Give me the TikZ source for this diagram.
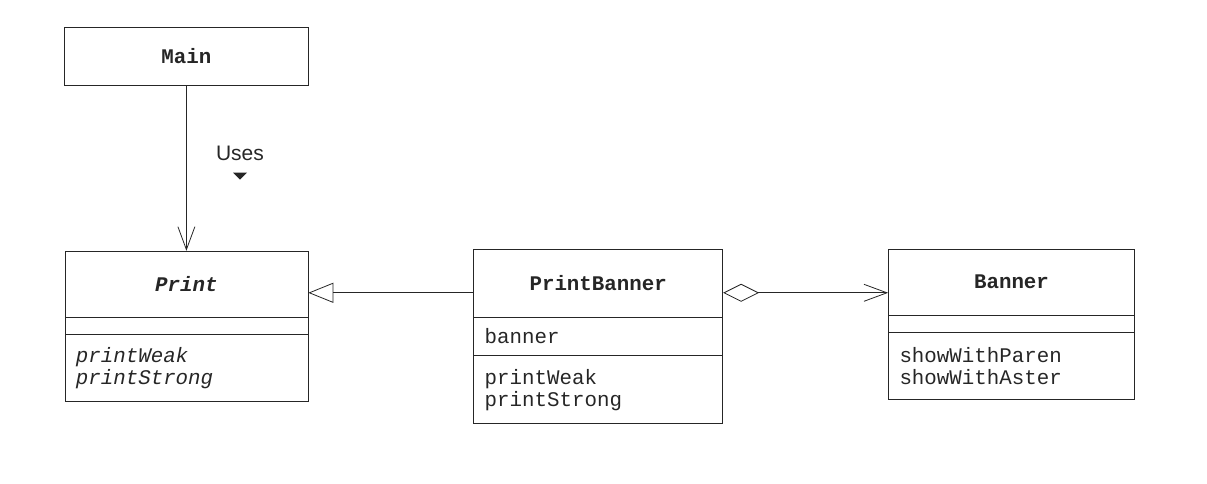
\documentclass[tikz,border=0pt]{standalone}
\usepackage{fontspec}
\setmonofont{Liberation Mono}
\setsansfont{Liberation Sans}
\usetikzlibrary{arrows.meta,positioning,shapes.multipart}
\tikzset{every picture/.style={
  line width=0.8pt, draw=black!85, text=black!85
  }
}
\newcommand{\umlfont}{\ttfamily\fontsize{20.8}{22}\selectfont}
\newcommand{\classhead}[2]{\parbox[c][#1][c]{\linewidth}{\centering\bfseries #2}}
\newcommand{\classpart}[2]{\parbox[c][#1][c]{\linewidth}{\raggedright #2}}

\begin{document}
\begin{tikzpicture}[
        umlbox/.style={
          rectangle,
          draw,
          font=\umlfont\bfseries,
          minimum width=244pt,
          minimum height=58pt,
          inner sep=0pt,
        },
        umlclass/.style={
          rectangle split,
          rectangle split parts=3,
          draw,
          font=\umlfont,
          inner xsep=11pt,
          inner ysep=0pt,
        },
        uses/.style={-{Straight Barb[length=23pt,width=17pt]}},
        generalize/.style={-{Triangle[open,length=25pt,width=20pt]}},
        aggregate/.style={{Diamond[open,length=36pt,width=18pt]}-{Straight Barb[length=23pt,width=17pt]}},
      ]
      \useasboundingbox (0pt,0pt) rectangle (1207pt,-484pt);
      \node[umlbox,anchor=north west] (main) at (64pt,-27pt) {Main};
      \node[umlclass,text width=221pt] (print) [below=165pt of main] { %
        \classhead{65pt}{\itshape Print}
        \nodepart{second} \classpart{17pt}{}
        \nodepart{third} \classpart{66pt}{\itshape printWeak\\printStrong}};
      \node[umlclass,text width=227pt] (printbanner)
        [below right=-2pt and 165pt of print.north east] { %
        \classhead{67pt}{PrintBanner}
        \nodepart{second} \classpart{38pt}{banner}
        \nodepart{third} \classpart{67pt}{printWeak\\printStrong}};
      \node[umlclass,text width=224pt] (banner)
        [below right=0pt and 165pt of printbanner.north east] { %
        \classhead{65pt}{Banner}
        \nodepart{second} \classpart{17pt}{}
        \nodepart{third} \classpart{66pt}{showWithParen\\showWithAster}};
      % association label
      \node[font=\sffamily\fontsize{21}{24}\selectfont,inner sep=0pt] (useslabel) at (240pt,-153pt) {Uses};
      \fill[black!85] ([yshift=-12pt]useslabel.south) ++(-7pt,0) -- ++(14pt,0) -- ++(-7pt,-7pt) -- cycle;
      % connectors
      \coordinate (pbw) at ([yshift=-44pt]printbanner.north west);
      \coordinate (pbe) at ([yshift=-44pt]printbanner.north east);
      \draw[uses] (main.south) -- (print.north);
      \draw[generalize] (pbw) -- (pbw -| print.east);
      \draw[aggregate] (pbe) -- (pbe -| banner.west);
      \end{tikzpicture}
\end{document}
